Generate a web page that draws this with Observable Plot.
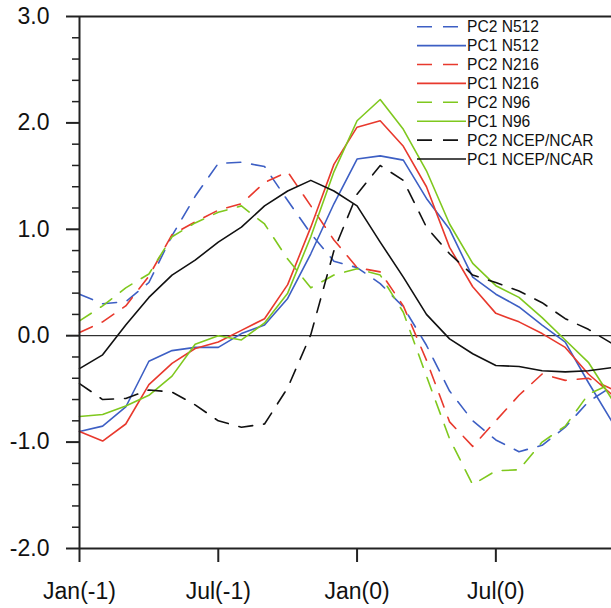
<!DOCTYPE html>
<html><head><meta charset="utf-8">
<script src="https://cdn.jsdelivr.net/npm/d3@7"></script>
<script src="https://cdn.jsdelivr.net/npm/@observablehq/plot@0.6"></script>
<style>
body{margin:0;background:#fff;}
#wrap{position:relative;width:611px;height:608px;overflow:hidden;}
#legend{position:absolute;left:0;top:0;}
</style></head><body><div id="wrap"></div>
<script>
// months since Jan(-1)
const months = [0,1,2,3,4,5,6,7,8,9,10,11,12,13,14,15,16,17,18,19,20,21,22,23];
const xTickMonths = [0, 6, 12, 18];
const xTickLabels = ["Jan(-1)", "Jul(-1)", "Jan(0)", "Jul(0)"];
const yMajorTicks = [-2, -1, 0, 1, 2, 3];
const yMinorTicks = [-1.8,-1.6,-1.4,-1.2,-0.8,-0.6,-0.4,-0.2,0.2,0.4,0.6,0.8,1.2,1.4,1.6,1.8,2.2,2.4,2.6,2.8];

const seriesNames = ["PC2 N512","PC1 N512","PC2 N216","PC1 N216","PC2 N96","PC1 N96","PC2 NCEP/NCAR","PC1 NCEP/NCAR"];
const seriesColors = ["#3d5fc4","#3d5fc4","#e8392d","#e8392d","#7fc81e","#7fc81e","#111111","#111111"];
const seriesDashed = [true,false,true,false,true,false,true,false];

const pc2N512 = [0.39,0.30,0.32,0.50,0.94,1.31,1.62,1.63,1.59,1.27,0.96,0.70,0.64,0.49,0.27,-0.09,-0.52,-0.80,-0.98,-1.09,-1.03,-0.86,-0.62,-0.48];
const pc1N512 = [-0.90,-0.85,-0.67,-0.24,-0.14,-0.11,-0.11,0.02,0.10,0.35,0.77,1.24,1.66,1.69,1.65,1.29,1.00,0.55,0.39,0.27,0.10,-0.06,-0.44,-0.80];
const pc2N216 = [0.03,0.13,0.28,0.56,0.95,1.07,1.18,1.24,1.44,1.54,1.22,0.90,0.64,0.60,0.28,-0.23,-0.81,-1.04,-0.80,-0.56,-0.36,-0.42,-0.40,-0.50];
const pc1N216 = [-0.90,-0.99,-0.83,-0.46,-0.26,-0.12,-0.06,0.05,0.16,0.48,1.02,1.61,1.96,2.02,1.78,1.40,0.83,0.46,0.21,0.13,0.02,-0.11,-0.36,-0.55];
const pc2N96 = [0.14,0.28,0.45,0.58,0.93,1.06,1.16,1.22,1.05,0.72,0.45,0.57,0.63,0.57,0.22,-0.38,-0.97,-1.40,-1.27,-1.26,-1.00,-0.85,-0.55,-0.45];
const pc1N96 = [-0.76,-0.74,-0.66,-0.56,-0.38,-0.08,0.00,-0.04,0.12,0.40,0.93,1.54,2.02,2.22,1.94,1.55,1.05,0.68,0.47,0.36,0.17,-0.04,-0.25,-0.59];
const pc2NCEP = [-0.45,-0.60,-0.59,-0.51,-0.53,-0.65,-0.80,-0.86,-0.83,-0.49,0.01,0.80,1.33,1.60,1.46,1.02,0.77,0.57,0.50,0.42,0.31,0.16,0.06,-0.07];
const pc1NCEP = [-0.31,-0.18,0.10,0.36,0.57,0.71,0.88,1.02,1.22,1.36,1.46,1.36,1.22,0.88,0.55,0.20,-0.03,-0.17,-0.28,-0.29,-0.33,-0.34,-0.33,-0.30];

const allSeries = [pc2N512,pc1N512,pc2N216,pc1N216,pc2N96,pc1N96,pc2NCEP,pc1NCEP];

const font = '"Liberation Sans", Arial, Helvetica, sans-serif';
const dash = "14,11";

const lineMarks = allSeries.map((vals, i) =>
  Plot.line(months.map((m, j) => ({m, v: vals[j]})), {
    x: "m", y: "v",
    stroke: seriesColors[i],
    strokeWidth: 1.6,
    strokeDasharray: seriesDashed[i] ? dash : null
  })
);

const chart = Plot.plot({
  width: 611, height: 608,
  marginLeft: 79, marginRight: 0, marginTop: 16, marginBottom: 60,
  style: {fontFamily: font, fontSize: "23px", color: "#111", background: "#fff"},
  x: {domain: [0, 23]},
  y: {domain: [-2, 3]},
  marks: [
    Plot.ruleY([0], {stroke: "#000", strokeWidth: 1}),
    ...lineMarks,
    Plot.ruleX([0], {stroke: "#222", strokeWidth: 2}),
    Plot.ruleY([-2, 3], {stroke: "#222", strokeWidth: 2}),
    Plot.axisY(yMinorTicks, {tickSize: 7, tickFormat: () => "", strokeWidth: 1.5, stroke: "#222", label: null}),
    Plot.axisY(yMajorTicks, {tickSize: 13, tickPadding: 17, tickFormat: d => d.toFixed(1), strokeWidth: 2, stroke: "#222", label: null}),
    Plot.axisX(xTickMonths, {tickSize: 14, tickPadding: 20, tickFormat: (d) => xTickLabels[xTickMonths.indexOf(d)], strokeWidth: 2, stroke: "#222", label: null})
  ]
});

const wrap = document.getElementById("wrap");
wrap.appendChild(chart);

// legend overlay
const leg = d3.select(wrap).append("svg")
  .attr("id", "legend").attr("width", 611).attr("height", 608)
  .style("position", "absolute").style("left", "0px").style("top", "0px");
seriesNames.forEach((name, i) => {
  const y = 26.7 + i * 18.9;
  leg.append("line")
    .attr("x1", 417).attr("x2", seriesDashed[i] ? 458 : 466)
    .attr("y1", y).attr("y2", y)
    .attr("stroke", seriesColors[i]).attr("stroke-width", 1.6)
    .attr("stroke-dasharray", seriesDashed[i] ? "15,11" : null);
  leg.append("text")
    .attr("x", 467).attr("y", y).attr("dy", "0.36em")
    .attr("font-family", font).attr("font-size", 15.6).attr("fill", "#111")
    .text(name);
});
</script>
</body></html>
